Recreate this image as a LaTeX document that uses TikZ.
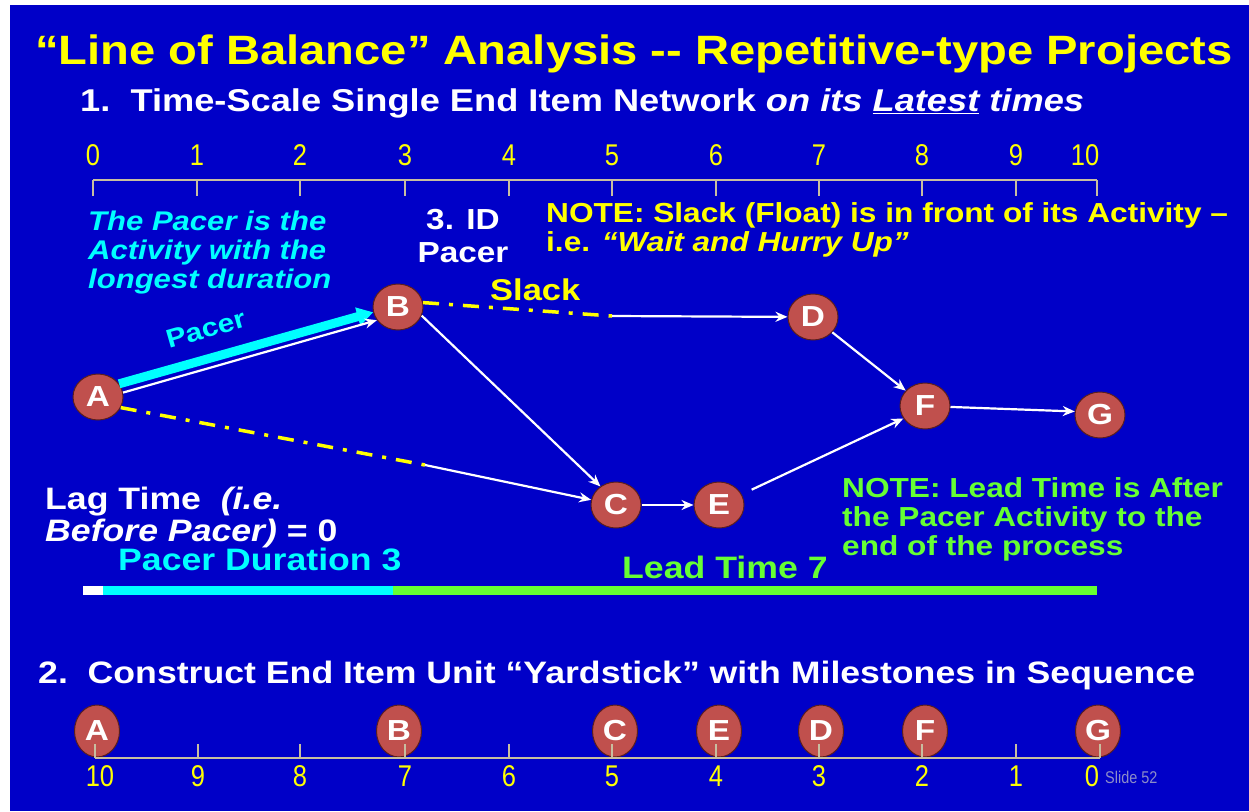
\documentclass[tikz,border=0pt]{standalone}
\usepackage{fontspec}
\setmainfont{Liberation Sans}[FakeStretch=1.15]
\newfontfamily\numfont{Liberation Sans}[FakeStretch=0.85]
\usetikzlibrary{shapes.geometric,arrows.meta}
\definecolor{slidebg}{RGB}{0,0,200}
\definecolor{lobyellow}{RGB}{255,255,0}
\definecolor{lobcyan}{RGB}{0,255,255}
\definecolor{lobgreen}{RGB}{102,255,51}
\definecolor{evtred}{RGB}{192,80,77}
\definecolor{evtrim}{RGB}{90,30,30}
\definecolor{axisgray}{RGB}{200,190,160}
\definecolor{slidegray}{RGB}{140,140,200}
\tikzset{
  evt/.style={ellipse,draw=evtrim,line width=1pt,fill=evtred,text=white,inner sep=0pt,
    minimum width=50pt,minimum height=46pt,font=\fontsize{29pt}{29pt}\selectfont\bfseries},
  yevt/.style={evt,minimum width=45pt,minimum height=52pt},
  act/.style={draw=white,line width=2.2pt,-{Stealth[length=12pt,width=10pt]}},
  slackline/.style={draw=lobyellow,line width=3.5pt,dash pattern=on 16pt off 10pt on 4pt off 10pt},
  txt/.style={anchor=base west,inner sep=0pt,align=left},
  numlbl/.style={anchor=base,inner sep=0pt,text=lobyellow,font=\numfont\fontsize{30pt}{30pt}\selectfont},
  axis/.style={draw=axisgray,line width=1.5pt},
}
\newcommand\bodyfont[1]{\fontsize{#1pt}{29pt}\selectfont\bfseries}

\begin{document}
\begin{tikzpicture}[x=1pt,y=-1pt]
  \useasboundingbox (0,0) rectangle (1249,811);
  \fill[white] (0,0) rectangle (1249,811);
  \fill[slidebg] (10,5) rectangle (1249,811);

  % headings
  \node[txt,text=lobyellow,font=\bodyfont{41}] (title) at (35,64)
    {“Line of Balance” Analysis {-}{-} Repetitive-type Projects};
  \node[txt,text=white,font=\bodyfont{31.5}] (step1) at (80,111)
    {1.\ \ Time-Scale Single End Item Network \textit{on its \underline{Latest} times}};
  \node[txt,text=white,font=\bodyfont{31}] (step2) at (38,683)
    {2.\ \ Construct End Item Unit “Yardstick” with Milestones in Sequence};

  % time scale
  \draw[axis] (93,180) -- (1097,180);
  \foreach \x in {93,197,300,405,509,612,716,819,922,1016,1097}
    \draw[axis] (\x,180) -- (\x,196);
  \foreach \x/\t in {93/0,197/1,300/2,405/3,509/4,612/5,716/6,819/7,922/8,1016/9,1085/10}
    \node[numlbl] at (\x,165) {\t};

  % notes (base = last line)
  \node[txt,text=lobcyan,font=\bodyfont{27}\itshape] (pacernote) at (88,288)
    {The Pacer is the\\Activity with the\\longest duration};
  \node[anchor=base,inner sep=0pt,align=center,text=white,font=\bodyfont{29}] (idpacer) at (463,262)
    {3. ID\\[4pt]Pacer};
  \node[txt,text=lobyellow,font=\bodyfont{27.5}] (slacknote) at (546,251)
    {NOTE: Slack (Float) is in front of its Activity –\\i.e. \textit{“Wait and Hurry Up”}};
  \node[txt,text=lobyellow,font=\bodyfont{30}] (slack) at (490,300) {Slack};
  \node[txt,text=white,font=\bodyfont{31}] (lag) at (45,541)
    {Lag Time\ \ \textit{(i.e.}\\[1pt]\textit{Before Pacer)} = 0};
  \node[txt,text=lobcyan,font=\bodyfont{31}] (pdur) at (118,570) {Pacer Duration 3};
  \node[txt,text=lobgreen,font=\bodyfont{31}] (lead) at (622,578) {Lead Time 7};
  \node[txt,text=lobgreen,font=\bodyfont{27.5}] (leadnote) at (842,555)
    {NOTE: Lead Time is After\\the Pacer Activity to the\\end of the process};

  % network
  \node[evt] (A) at (98,397) {A};
  \node[evt] (B) at (398,307) {B};
  \node[evt] (C) at (616,505) {C};
  \node[evt] (E) at (719,505) {E};
  \node[evt] (D) at (813,317) {D};
  \node[evt] (F) at (925,406) {F};
  \node[evt] (G) at (1100,415) {G};
  \coordinate (bslack) at (612,316);
  \coordinate (aslack) at (425,465);

  \draw[lobcyan,line width=9pt,-{Triangle[length=16pt,width=18pt]}] (A.32) -- (B.192);
  \draw[act] (A.10) -- (B.212);
  \node[rotate=16,text=lobcyan,font=\bodyfont{26}] (pacerlbl) at (206,329) {Pacer};
  \draw[slackline] (B.10) -- (bslack);
  \draw[act] (bslack) -- (D);
  \draw[slackline] (A.-25) -- (aslack);
  \draw[act] (aslack) -- (C);
  \draw[act] (B.-20) -- (C.130);
  \draw[act] (C) -- (E);
  \draw[act,shorten <=11pt] (E) -- (F.210);
  \draw[act] (D) -- (F);
  \draw[act] (F) -- (G.172);

  % bar
  \fill[white] (83,586) rectangle (103,595);
  \fill[lobcyan] (103,586) rectangle (393,595);
  \fill[lobgreen] (393,586) rectangle (1097,595);

  % yardstick
  \node[yevt] (yA) at (97,731) {A};
  \node[yevt] (yB) at (399,731) {B};
  \node[yevt] (yC) at (615,731) {C};
  \node[yevt] (yE) at (719,731) {E};
  \node[yevt] (yD) at (821,731) {D};
  \node[yevt] (yF) at (925,731) {F};
  \node[yevt] (yG) at (1098,731) {G};
  \draw[axis] (95,758) -- (1100,758);
  \foreach \x in {95,198,300,405,509,612,716,819,922,1016,1100}
    \draw[axis] (\x,744) -- (\x,758);
  \foreach \x/\t in {100/10,198/9,300/8,405/7,509/6,612/5,716/4,819/3,922/2,1016/1,1092/0}
    \node[numlbl] at (\x,786) {\t};
  \node[txt,text=slidegray,font=\numfont\fontsize{17pt}{17pt}\selectfont] (slide) at (1105,783) {Slide 52};
\end{tikzpicture}
\end{document}
